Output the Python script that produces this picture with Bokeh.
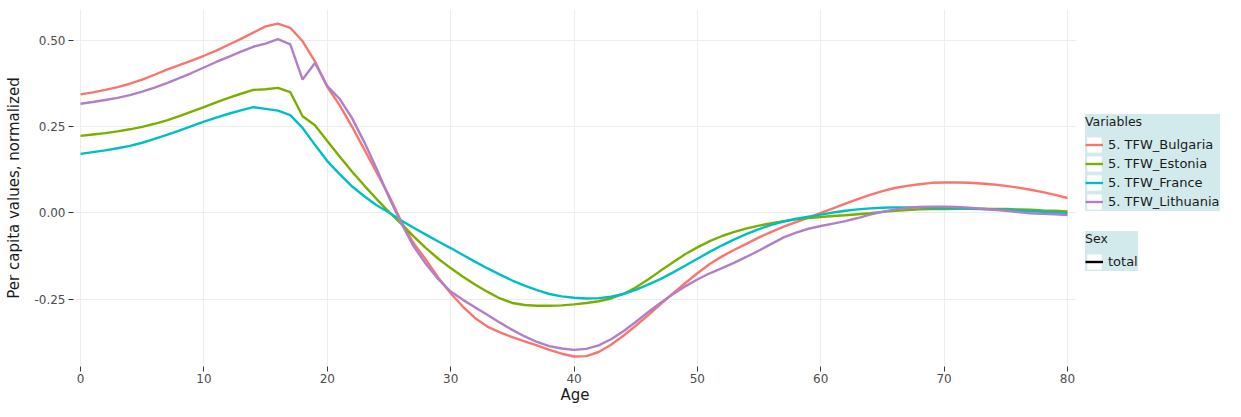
from bokeh.plotting import figure
from bokeh.layouts import row
from bokeh.models import Legend, LegendItem, FixedTicker, PrintfTickFormatter, Range1d
from bokeh.embed import file_html
from bokeh.resources import INLINE

ages = list(range(0, 81))

bulgaria = [0.343, 0.349, 0.356, 0.364, 0.374, 0.386, 0.400, 0.415, 0.428, 0.441,
            0.455, 0.470, 0.487, 0.504, 0.522, 0.540, 0.548, 0.536, 0.497, 0.439,
            0.365, 0.312, 0.250, 0.184, 0.117, 0.050, -0.025, -0.088, -0.136, -0.188,
            -0.233, -0.272, -0.305, -0.330, -0.346, -0.360, -0.372, -0.384, -0.397, -0.408,
            -0.416, -0.415, -0.403, -0.382, -0.356, -0.327, -0.297, -0.265, -0.234, -0.204,
            -0.175, -0.148, -0.126, -0.107, -0.089, -0.071, -0.055, -0.040, -0.027, -0.014,
            0.000, 0.013, 0.027, 0.040, 0.052, 0.063, 0.072, 0.078, 0.083, 0.087,
            0.088, 0.088, 0.087, 0.085, 0.082, 0.078, 0.073, 0.067, 0.060, 0.052, 0.043]

estonia = [0.223, 0.227, 0.231, 0.236, 0.242, 0.249, 0.258, 0.268, 0.280, 0.293,
           0.306, 0.320, 0.333, 0.345, 0.356, 0.358, 0.362, 0.350, 0.280, 0.254,
           0.208, 0.163, 0.120, 0.079, 0.040, 0.003, -0.032, -0.068, -0.102, -0.133,
           -0.160, -0.185, -0.208, -0.229, -0.248, -0.261, -0.267, -0.269, -0.269, -0.268,
           -0.265, -0.261, -0.256, -0.248, -0.235, -0.216, -0.193, -0.168, -0.144, -0.120,
           -0.100, -0.082, -0.067, -0.055, -0.045, -0.037, -0.030, -0.024, -0.019, -0.015,
           -0.012, -0.009, -0.007, -0.004, -0.001, 0.003, 0.006, 0.008, 0.010, 0.011,
           0.011, 0.012, 0.012, 0.012, 0.011, 0.011, 0.010, 0.009, 0.007, 0.006, 0.004]

france = [0.171, 0.176, 0.181, 0.187, 0.194, 0.203, 0.214, 0.226, 0.238, 0.251,
          0.264, 0.276, 0.287, 0.297, 0.306, 0.301, 0.296, 0.283, 0.246, 0.197,
          0.150, 0.112, 0.077, 0.048, 0.022, 0.001, -0.022, -0.043, -0.063, -0.083,
          -0.102, -0.122, -0.142, -0.161, -0.179, -0.196, -0.211, -0.224, -0.235, -0.242,
          -0.246, -0.248, -0.247, -0.243, -0.235, -0.223, -0.208, -0.192, -0.173, -0.153,
          -0.133, -0.113, -0.094, -0.077, -0.061, -0.047, -0.035, -0.025, -0.017, -0.011,
          -0.005, 0.001, 0.006, 0.010, 0.013, 0.015, 0.016, 0.016, 0.016, 0.015,
          0.014, 0.013, 0.012, 0.011, 0.010, 0.009, 0.007, 0.005, 0.003, 0.001, -0.001]

lithuania = [0.316, 0.321, 0.327, 0.333, 0.341, 0.351, 0.363, 0.376, 0.390, 0.405,
             0.421, 0.437, 0.452, 0.467, 0.481, 0.490, 0.503, 0.488, 0.386, 0.434,
             0.367, 0.330, 0.275, 0.205, 0.128, 0.045, -0.030, -0.097, -0.148, -0.192,
             -0.228, -0.252, -0.274, -0.296, -0.318, -0.339, -0.358, -0.374, -0.386, -0.393,
             -0.397, -0.394, -0.384, -0.366, -0.343, -0.316, -0.288, -0.261, -0.236, -0.213,
             -0.193, -0.175, -0.160, -0.144, -0.127, -0.109, -0.090, -0.071, -0.057, -0.046,
             -0.038, -0.031, -0.024, -0.015, -0.005, 0.003, 0.010, 0.014, 0.017, 0.018,
             0.018, 0.017, 0.015, 0.012, 0.009, 0.006, 0.002, -0.001, -0.003, -0.004, -0.006]

series_names = ["5. TFW_Bulgaria", "5. TFW_Estonia", "5. TFW_France", "5. TFW_Lithuania"]
series_values = [bulgaria, estonia, france, lithuania]
series_colors = ["#F8766D", "#7CAE00", "#00BFC4", "#B17FC8"]
sex_names = ["total"]
sex_colors = ["black"]

y_ticks = [-0.25, 0.0, 0.25, 0.5]
x_ticks = [0, 10, 20, 30, 40, 50, 60, 70, 80]

FONT = "DejaVu Sans"
TOTAL_H = 401

p = figure(frame_width=1003, frame_height=357, output_backend="svg", toolbar_location=None,
           x_range=Range1d(-0.57, 80.73), y_range=Range1d(-0.445, 0.589),
           min_border_left=73, min_border_right=0, min_border_top=9, min_border_bottom=33)
p.outline_line_color = None
p.background_fill_color = "white"

for vals, col in zip(series_values, series_colors):
    p.line(ages, vals, line_color=col, line_width=2.4)

for ax in (p.xaxis[0], p.yaxis[0]):
    ax.axis_line_color = None
    ax.major_tick_line_color = "#333333"
    ax.major_tick_in = 0
    ax.major_tick_out = 5
    ax.minor_tick_line_color = None
    ax.major_label_text_font = FONT
    ax.major_label_text_font_size = "12px"
    ax.major_label_text_color = "#4d4d4d"
    ax.axis_label_text_font = FONT
    ax.axis_label_text_font_size = "15px"
    ax.axis_label_text_font_style = "normal"
    ax.axis_label_text_color = "#1a1a1a"

p.xaxis.ticker = FixedTicker(ticks=x_ticks)
p.yaxis.ticker = FixedTicker(ticks=y_ticks)
p.yaxis.formatter = PrintfTickFormatter(format="%.2f")
p.xaxis.axis_label = "Age"
p.yaxis.axis_label = "Per capita values, normalized"
p.xaxis.major_label_standoff = 2
p.xaxis.axis_label_standoff = 0
p.yaxis.major_label_standoff = 3
p.yaxis.axis_label_standoff = 8

p.xgrid.grid_line_color = "#ededed"
p.ygrid.grid_line_color = "#ededed"
p.xgrid.ticker = FixedTicker(ticks=x_ticks)
p.ygrid.ticker = FixedTicker(ticks=y_ticks)

# legend panel (separate figure to the right of the plot); its key renderers
# hold the same data but the panel's ranges keep them off-screen
lf = figure(width=149, height=TOTAL_H, output_backend="svg", toolbar_location=None,
            x_axis_location=None, y_axis_location=None,
            x_range=Range1d(500, 501), y_range=Range1d(500, 501),
            min_border_left=0, min_border_right=0, min_border_top=0, min_border_bottom=0)
lf.grid.visible = False
lf.outline_line_color = None

def key(vals, col):
    box = lf.rect(x=ages, y=vals, width=1, height=0.01, fill_color="white", line_color=None)
    ln = lf.line(ages, vals, line_color=col, line_width=2.4)
    return [box, ln]

var_keys = [key(v, c) for v, c in zip(series_values, series_colors)]
sex_keys = [key(series_values[0], c) for c in sex_colors]

def style_legend(lg):
    lg.background_fill_color = "#d3eaec"
    lg.background_fill_alpha = 1.0
    lg.border_line_color = None
    lg.title_text_font = FONT
    lg.title_text_font_size = "12.5px"
    lg.title_text_font_style = "normal"
    lg.title_text_color = "#1a1a1a"
    lg.label_text_font = FONT
    lg.label_text_font_size = "13px"
    lg.label_text_color = "#1a1a1a"
    lg.glyph_width = 18
    lg.glyph_height = 19
    lg.label_standoff = 5
    lg.label_height = 19
    lg.spacing = 0
    lg.padding = 5
    lg.margin = 0
    lg.title_standoff = 6

legend1 = Legend(items=[LegendItem(label=n, renderers=r) for n, r in zip(series_names, var_keys)],
                 title="Variables", location=(9, 150))
style_legend(legend1)
legend2 = Legend(items=[LegendItem(label=n, renderers=r) for n, r in zip(sex_names, sex_keys)],
                 title="Sex", location=(9, 90))
style_legend(legend2)
lf.add_layout(legend1, "center")
lf.add_layout(legend2, "center")

layout = row(p, lf)
open("out.html", "w").write(file_html(layout, INLINE))
